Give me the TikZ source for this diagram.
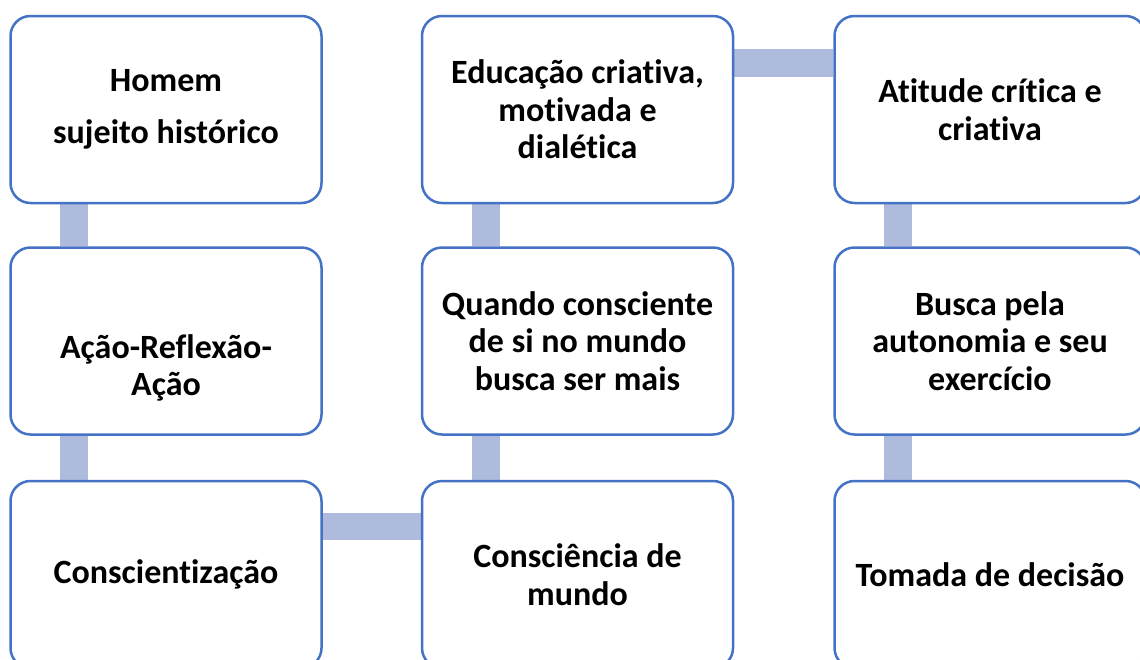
\documentclass[tikz,border=0pt]{standalone}
\usepackage{fontspec}
\setmainfont{Carlito}[Ligatures=NoCommon]
\usetikzlibrary{backgrounds}
\definecolor{boxline}{HTML}{4472C4}
\definecolor{barfill}{HTML}{AFBBDD}
\tikzset{
  box/.style={draw=boxline, line width=2.5pt, rounded corners=20pt, fill=white,
    minimum width=311pt, minimum height=187pt, inner sep=0pt, align=center,
    font=\fontsize{34}{37.5}\selectfont\bfseries, text=black},
  boxtext/.style={align=center, font=\fontsize{34}{37.5}\selectfont\bfseries, text=black, inner sep=0pt},
  bar/.style={draw=barfill, line width=27.5pt, line cap=butt}
}
\begin{document}
\begin{tikzpicture}[x=1pt,y=-1pt]
\useasboundingbox (0,0) rectangle (1140,659);
\clip (0,0) rectangle (1140,659);
% boxes
\node[box] (b11) at (166,109.5) {Homem\\[15pt]sujeito histórico};
\node[box, label={[boxtext, yshift=-27pt]center:Ação-Reflexão-\\Ação}] (b21) at (166,341) {};
\node[box] (b31) at (166,574.5) {Conscientização};
\node[box] (b12) at (577.5,109.5) {Educação criativa,\\motivada e\\dialética};
\node[box] (b22) at (577.5,341) {Quando consciente\\de si no mundo\\busca ser mais};
\node[box] (b32) at (577.5,574.5) {Consciência de\\mundo};
\node[box] (b13) at (990,109.5) {Atitude crítica e\\criativa};
\node[box] (b23) at (990,341) {Busca pela\\autonomia e seu\\exercício};
\node[box] (b33) at (990,574.5) {Tomada de decisão};
% connectors
\begin{scope}[on background layer]
\fill[white] (0,0) rectangle (1140,659);
\draw[bar] ([xshift=-92pt]b11.south) -- ([xshift=-92pt]b21.north);
\draw[bar] ([xshift=-92pt]b21.south) -- ([xshift=-92pt]b31.north);
\draw[bar] ([yshift=48pt]b31.east) -- ([yshift=48pt]b32.west);
\draw[bar] ([xshift=-91.5pt]b32.north) -- ([xshift=-91.5pt]b22.south);
\draw[bar] ([xshift=-91.5pt]b22.north) -- ([xshift=-91.5pt]b12.south);
\draw[bar] ([yshift=46.5pt]b12.east) -- ([yshift=46.5pt]b13.west);
\draw[bar] ([xshift=-92pt]b13.south) -- ([xshift=-92pt]b23.north);
\draw[bar] ([xshift=-92pt]b23.south) -- ([xshift=-92pt]b33.north);
\end{scope}
\end{tikzpicture}
\end{document}
